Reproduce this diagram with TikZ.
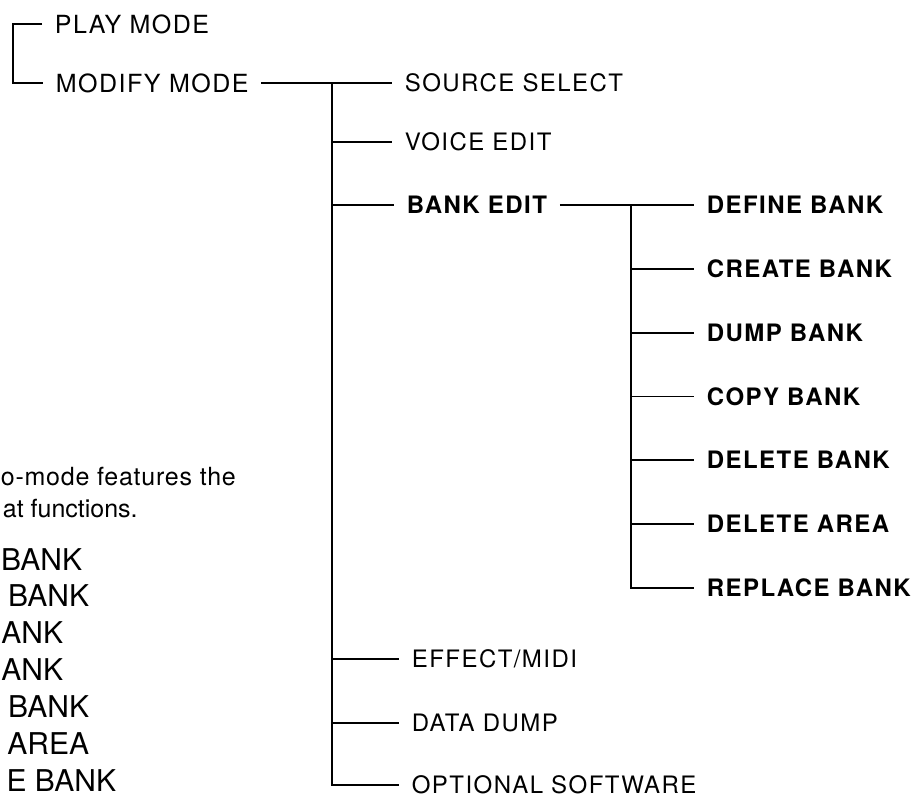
\documentclass[tikz,border=0pt]{standalone}
\usepackage{fontspec}
\setmainfont{TeX Gyre Heros}
\newfontfamily\labfont[LetterSpace=6]{TeX Gyre Heros}
\newfontfamily\bodyfont[LetterSpace=3]{TeX Gyre Heros}
\begin{document}
\begin{tikzpicture}[x=1pt,y=-1pt, line width=1.8pt,
  lbl/.style={anchor=west, inner xsep=12pt, inner ysep=0pt, text height=17.2pt, text depth=0pt,
    font=\labfont\fontsize{24}{28}\selectfont},
  toplbl/.style={lbl, text height=18pt, font=\labfont\fontsize{25}{30}\selectfont},
  blbl/.style={lbl, font=\labfont\bfseries\fontsize{24}{28}\selectfont},
  body/.style={anchor=base west, inner sep=0pt, font=\fontsize{25}{30}\selectfont},
  biglist/.style={anchor=base east, inner sep=0pt, font=\fontsize{30}{36}\selectfont}]
\useasboundingbox (0,0) rectangle (921,798);

% top bracket
\node[toplbl] (play) at (42,24) {PLAY MODE};
\node[toplbl] (modify) at (43,83) {MODIFY MODE};
\coordinate (b0) at (13,24);
\coordinate (b1) at (13,83);
\draw (play.west) -- (b0) -- (b1) -- (modify.west);

% main branches
\node[lbl]  (src)    at (392,83)  {SOURCE SELECT};
\node[lbl]  (voice)  at (392,142) {VOICE EDIT};
\node[blbl] (bank)   at (394,205) {BANK EDIT};
\node[lbl]  (effect) at (399,659) {EFFECT/MIDI};
\node[lbl]  (data)   at (399,723) {DATA DUMP};
\node[lbl]  (opt)    at (399,785) {OPTIONAL SOFTWARE};

\coordinate (t0) at (332,83);
\coordinate (t1) at (332,142);
\coordinate (t2) at (332,205);
\coordinate (t3) at (332,659);
\coordinate (t4) at (332,723);

\draw (modify.east) -- (src.west);
\draw (t0) |- (opt.west);
\draw (t1) -- (voice.west);
\draw (t2) -- (bank.west);
\draw (t3) -- (effect.west);
\draw (t4) -- (data.west);

% bank edit sub-branches
\node[blbl] (define)  at (694,205)   {DEFINE BANK};
\node[blbl] (create)  at (694,269)   {CREATE BANK};
\node[blbl] (dump)    at (694,332.6) {DUMP BANK};
\node[blbl] (copy)    at (694,396.4) {COPY BANK};
\node[blbl] (delbank) at (694,460)   {DELETE BANK};
\node[blbl] (delarea) at (694,524)   {DELETE AREA};
\node[blbl] (replace) at (694,588)   {REPLACE BANK};

\coordinate (s0) at (631,205);
\coordinate (s1) at (631,269);
\coordinate (s2) at (631,332.6);
\coordinate (s3) at (631,396.4);
\coordinate (s4) at (631,460);
\coordinate (s5) at (631,524);

\draw (bank.east) -- (define.west);
\draw (s0) |- (replace.west);
\draw (s1) -- (create.west);
\draw (s2) -- (dump.west);
\draw (s3) -- (copy.west);
\draw (s4) -- (delbank.west);
\draw (s5) -- (delarea.west);

% cut-off text at the left
\node[body, font=\bodyfont\fontsize{25}{30}\selectfont] (p1) at (0,485) {o-mode features the};
\node[body] (p2) at (2,517) {at functions.};
\node[biglist] (l1) at (83,570)  {BANK};
\node[biglist] (l2) at (90,606)  {BANK};
\node[biglist] (l3) at (64,643)  {ANK};
\node[biglist] (l4) at (64,680)  {ANK};
\node[biglist] (l5) at (90,717)  {BANK};
\node[biglist] (l6) at (90,754)  {AREA};
\node[biglist] (l7) at (117,791) {E BANK};
\end{tikzpicture}
\end{document}
